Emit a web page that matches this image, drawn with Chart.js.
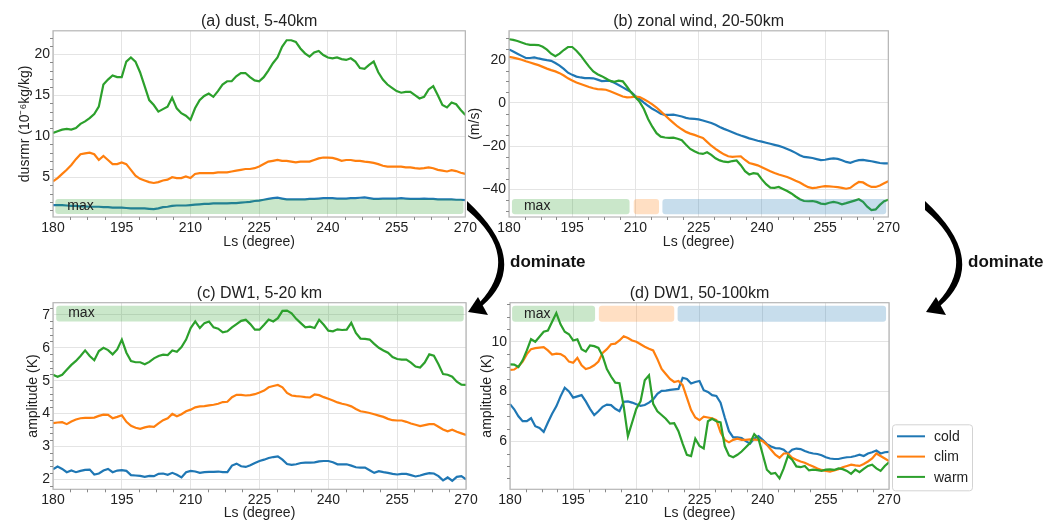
<!DOCTYPE html>
<html>
<head>
<meta charset="utf-8">
<script src="https://cdn.jsdelivr.net/npm/chart.js@4.4.1/dist/chart.umd.min.js"></script>
<style>
  body { margin: 0; background: #fff; }
  #page { position: relative; width: 1058px; height: 522px; overflow: hidden; font-family: "Liberation Sans", Arial, sans-serif; }
  canvas { position: absolute; }
  .dom { position: absolute; font-weight: bold; font-size: 17px; color: #111; line-height: 20px; }
  svg { position: absolute; left: 0; top: 0; pointer-events: none; }
</style>
</head>
<body>
<div id="page">
  <canvas id="dust" width="480" height="252" style="left:0;top:0"></canvas>
  <canvas id="wind" width="441" height="252" style="left:462px;top:0"></canvas>
  <canvas id="dwLow" width="480" height="252" style="left:0;top:270px"></canvas>
  <canvas id="dwHigh" width="520" height="252" style="left:462px;top:270px"></canvas>
  <div class="dom" style="left:510px;top:252px">dominate</div>
  <div class="dom" style="left:968px;top:252px">dominate</div>
  <svg width="1058" height="522">
    <g id="arrow1" fill="#000">
      <path d="M467 201 Q533 262 482 306 L480 302 Q522 256 467 210 Z"/>
      <path d="M468 312 L478 297 L488 315 Z"/>
    </g>
    <use href="#arrow1" x="458" y="0"/>
  </svg>
</div>
<script>
const FONT = "'Liberation Sans', Arial, sans-serif";

// solar longitude (degree), one sample per degree
const ls = [180,181,182,183,184,185,186,187,188,189,190,191,192,193,194,195,196,197,198,199,
  200,201,202,203,204,205,206,207,208,209,210,211,212,213,214,215,216,217,218,219,
  220,221,222,223,224,225,226,227,228,229,230,231,232,233,234,235,236,237,238,239,
  240,241,242,243,244,245,246,247,248,249,250,251,252,253,254,255,256,257,258,259,
  260,261,262,263,264,265,266,267,268,269,270];
const lsTicks = [180, 195, 210, 225, 240, 255, 270];

const runs = ['cold', 'clim', 'warm'];
const runColors = { cold: '#1f77b4', clim: '#ff7f0e', warm: '#2ca02c' };

// (a) dust mass mixing ratio, 5-40 km
const dustCold = [1.6,1.6,1.6,1.55,1.5,1.5,1.45,1.45,1.4,1.4,
  1.4,1.35,1.35,1.3,1.3,1.3,1.25,1.2,1.2,1.2,
  1.2,1.15,1.1,1.2,1.35,1.4,1.5,1.55,1.55,1.55,
  1.6,1.65,1.7,1.75,1.75,1.8,1.8,1.8,1.8,1.85,
  1.85,1.9,1.95,2.0,2.1,2.15,2.25,2.35,2.45,2.5,
  2.4,2.3,2.3,2.3,2.3,2.3,2.35,2.35,2.4,2.45,
  2.45,2.45,2.4,2.4,2.4,2.45,2.45,2.5,2.55,2.45,
  2.35,2.35,2.4,2.4,2.4,2.4,2.45,2.4,2.35,2.35,
  2.35,2.4,2.35,2.35,2.3,2.3,2.3,2.3,2.25,2.25,2.2];
const dustClim = [4.5,4.9,5.4,5.9,6.5,7.2,7.8,7.9,8.0,7.8,
  7.1,7.6,7.1,6.6,6.6,6.8,6.6,5.9,5.2,4.8,
  4.6,4.4,4.3,4.4,4.6,4.7,5.0,4.9,4.9,5.1,
  4.9,5.4,5.5,5.5,5.5,5.5,5.6,5.6,5.6,5.7,
  5.8,5.9,6.0,6.0,6.1,6.3,6.6,6.9,7.0,7.1,
  7.0,7.0,6.9,6.8,6.9,6.9,6.9,7.1,7.3,7.4,
  7.4,7.35,7.2,7.0,7.1,7.1,7.0,7.0,6.9,6.85,
  6.75,6.6,6.4,6.3,6.3,6.3,6.3,6.2,6.2,6.1,
  6.05,6.1,6.2,6.1,5.9,5.8,5.7,5.85,5.75,5.55,5.4];
const dustWarm = [10.4,10.6,10.8,10.9,10.8,11.0,11.5,11.8,12.2,12.7,
  13.6,16.3,16.9,17.4,17.2,17.2,19.1,19.6,19.1,17.8,
  16.1,14.4,13.8,13.0,13.3,13.6,14.7,13.4,12.8,12.5,
  12.0,13.4,14.4,14.9,15.2,14.8,15.5,16.3,16.7,16.7,
  17.3,17.7,17.7,17.2,16.8,16.7,17.2,18.0,18.9,19.6,
  20.9,21.7,21.7,21.5,20.7,20.1,19.7,20.2,20.4,19.9,
  19.6,19.5,19.6,19.4,19.3,19.5,19.1,18.3,18.2,18.7,
  19.1,17.8,16.9,16.3,15.9,15.5,15.3,15.4,15.4,15.0,
  14.6,14.8,15.7,16.1,15.0,13.8,13.5,14.1,13.9,13.2,12.6];

// (b) zonal wind, 20-50 km
const windCold = [24.8,23.8,22.8,21.8,20.8,20.8,21.1,20.6,20.2,19.8,
  19.5,18.5,17.3,15.8,14.0,13.0,12.2,11.8,11.5,11.5,
  11.4,10.8,10.1,10.2,10.2,9.3,8.3,7.2,6.1,5.0,
  3.2,1.8,0.2,-1.3,-2.7,-3.8,-5.0,-5.5,-5.5,-5.4,
  -5.8,-6.3,-6.9,-7.3,-7.4,-7.6,-8.1,-8.7,-9.3,-10.1,
  -11.1,-12.0,-12.8,-13.6,-14.4,-15.1,-15.7,-16.4,-16.9,-17.5,
  -17.9,-18.4,-18.9,-19.4,-19.9,-20.5,-21.3,-22.1,-23.1,-24.2,
  -25.0,-25.2,-25.5,-26.0,-26.5,-26.3,-25.9,-25.7,-25.9,-26.5,
  -27.3,-27.7,-27.0,-26.5,-26.4,-26.7,-27.0,-27.4,-27.8,-28.0,-28.0];
const windClim = [21.3,21.0,20.5,20.0,19.3,18.7,18.1,17.5,16.7,15.9,
  15.2,14.6,13.8,12.7,11.4,10.4,9.5,8.8,8.1,7.4,
  6.8,6.4,6.3,6.1,5.4,4.6,3.8,3.0,2.6,2.7,
  2.9,2.7,1.7,0.6,-0.7,-2.1,-3.9,-5.7,-7.5,-9.2,
  -10.9,-12.2,-13.4,-14.2,-14.8,-15.5,-16.2,-18.0,-19.8,-21.3,
  -22.6,-23.8,-24.7,-25.0,-24.8,-24.7,-26.4,-27.8,-28.3,-28.9,
  -29.8,-30.7,-31.6,-32.4,-33.1,-33.7,-34.3,-35.1,-36.0,-36.8,
  -38.0,-39.0,-39.4,-39.2,-38.8,-38.5,-38.6,-38.8,-39.0,-39.3,
  -39.7,-39.3,-37.8,-36.6,-36.8,-38.0,-38.9,-38.9,-38.2,-37.2,-36.3];
const windWarm = [29.5,29.2,28.7,28.0,27.3,26.9,26.9,26.8,26.0,24.7,
  22.8,21.6,22.8,24.5,25.9,25.9,24.2,22.0,19.4,16.8,
  14.6,13.3,12.4,11.3,10.2,9.8,10.3,10.0,7.5,4.8,
  2.6,0.5,-2.8,-7.4,-11.0,-14.0,-15.6,-16.0,-16.2,-16.1,
  -16.6,-17.3,-19.4,-21.3,-22.4,-23.3,-23.6,-22.8,-24.0,-25.6,
  -26.6,-27.2,-27.4,-26.9,-26.6,-28.8,-31.6,-33.1,-32.5,-32.8,
  -35.4,-37.6,-39.2,-39.3,-38.9,-39.8,-40.8,-41.9,-43.3,-44.6,
  -45.4,-45.5,-45.4,-45.8,-46.6,-46.8,-46.2,-45.8,-46.2,-46.9,
  -46.4,-45.8,-45.2,-44.6,-45.8,-48.0,-49.6,-49.3,-47.2,-45.5,-44.8];

// (c) DW1 amplitude, 5-20 km
const dwLowCold = [2.31,2.39,2.32,2.22,2.27,2.22,2.26,2.29,2.3,2.15,
  2.18,2.27,2.32,2.22,2.27,2.28,2.26,2.13,2.12,2.11,
  2.08,2.11,2.1,2.17,2.18,2.14,2.2,2.14,2.06,2.22,
  2.26,2.24,2.2,2.22,2.23,2.23,2.24,2.22,2.22,2.42,
  2.48,2.4,2.38,2.43,2.5,2.56,2.6,2.65,2.68,2.7,
  2.6,2.47,2.44,2.46,2.5,2.51,2.51,2.52,2.55,2.56,
  2.56,2.52,2.46,2.46,2.46,2.42,2.37,2.36,2.36,2.28,
  2.2,2.25,2.22,2.2,2.17,2.15,2.17,2.17,2.13,2.09,
  2.12,2.16,2.19,2.18,2.1,1.97,2.06,1.96,2.08,2.1,2.0];
const dwLowClim = [3.71,3.73,3.74,3.68,3.76,3.82,3.86,3.87,3.87,3.88,
  3.93,3.97,3.96,3.86,3.9,3.95,3.75,3.63,3.57,3.54,
  3.58,3.61,3.6,3.7,3.8,3.86,3.99,3.92,3.98,4.07,
  4.12,4.19,4.22,4.23,4.25,4.27,4.3,4.35,4.36,4.5,
  4.57,4.57,4.55,4.56,4.59,4.64,4.7,4.8,4.84,4.87,
  4.8,4.63,4.55,4.53,4.52,4.5,4.49,4.58,4.56,4.5,
  4.45,4.4,4.34,4.3,4.27,4.22,4.14,4.07,4.05,4.02,
  3.98,3.94,3.9,3.84,3.8,3.79,3.79,3.75,3.7,3.66,
  3.62,3.65,3.68,3.68,3.6,3.52,3.46,3.51,3.45,3.4,3.35];
const dwLowWarm = [5.18,5.12,5.18,5.33,5.48,5.6,5.75,5.92,5.75,5.62,
  5.9,6.0,5.93,5.8,5.95,6.25,5.85,5.6,5.56,5.56,
  5.5,5.57,5.68,5.75,5.79,5.78,5.92,5.88,6.02,6.25,
  6.6,6.8,6.6,6.75,6.8,6.62,6.58,6.47,6.5,6.62,
  6.72,6.82,6.85,6.72,6.55,6.55,6.7,6.86,6.8,6.9,
  7.12,7.13,7.05,6.88,6.75,6.62,6.64,6.6,6.85,6.7,
  6.52,6.5,6.56,6.54,6.55,6.76,6.45,6.28,6.27,6.25,
  6.12,6.0,5.92,5.85,5.72,5.66,5.64,5.64,5.55,5.43,
  5.4,5.55,5.8,5.76,5.5,5.2,5.18,5.12,4.97,4.88,4.87];

// (d) DW1 amplitude, 50-100 km
const dwHighCold = [7.49,7.28,7.0,6.8,6.8,6.92,6.6,6.53,6.37,6.75,
  7.1,7.4,7.8,8.15,8.0,7.75,7.8,7.85,7.6,7.3,
  7.05,7.2,7.38,7.47,7.45,7.3,7.2,7.58,7.6,7.55,
  7.48,7.42,7.45,7.55,7.68,7.9,8.02,8.03,8.06,8.08,
  8.1,8.55,8.5,8.32,8.38,8.42,8.05,7.98,7.85,7.82,
  7.55,6.95,6.4,6.15,6.15,6.12,6.0,5.9,6.1,6.2,
  6.05,5.88,5.78,5.72,5.71,5.65,5.5,5.65,5.7,5.68,
  5.6,5.54,5.5,5.48,5.43,5.35,5.3,5.28,5.28,5.32,
  5.35,5.36,5.4,5.45,5.4,5.5,5.55,5.62,5.5,5.55,5.57];
const dwHighClim = [8.87,8.88,9.0,9.2,9.5,9.7,9.74,9.76,9.78,9.65,
  9.48,9.52,9.5,9.4,9.2,9.15,9.35,9.05,8.9,8.95,
  9.05,9.2,9.55,9.7,9.9,9.92,10.05,10.22,10.15,10.05,
  10.0,9.9,9.8,9.72,9.65,9.3,8.9,8.7,8.5,8.38,
  8.42,8.25,7.75,7.25,6.95,6.84,6.98,6.95,6.92,6.85,
  6.35,6.05,5.95,6.05,6.1,6.05,6.05,6.07,6.06,6.05,
  6.0,5.85,5.65,5.45,5.33,5.5,5.5,5.33,5.25,5.18,
  5.13,5.05,4.98,4.9,4.84,4.8,4.77,4.82,4.87,4.95,
  5.0,5.05,5.02,5.0,5.08,5.18,5.3,5.5,5.4,5.3,5.2];
const dwHighWarm = [9.09,9.08,8.98,9.25,9.65,10.1,10.0,10.2,10.4,10.45,
  10.8,11.15,10.7,10.4,10.3,10.05,10.1,9.7,9.6,9.85,
  9.82,9.75,9.42,8.9,8.6,8.35,8.33,7.4,6.2,6.75,
  7.3,7.6,8.45,8.65,7.5,7.2,7.05,6.9,6.7,6.72,
  6.4,5.9,5.45,5.4,6.1,5.8,5.7,6.8,6.9,6.8,
  6.75,5.8,5.42,5.35,5.45,5.58,5.75,5.92,6.28,6.1,
  5.47,4.85,4.68,4.72,4.5,4.9,5.4,5.25,4.98,4.95,
  5.0,4.82,4.85,4.83,4.8,4.85,4.86,4.84,4.9,4.87,
  4.8,4.68,4.85,4.75,4.88,5.0,5.05,4.9,4.8,5.0,5.15];

// "dominant run" bars: [start Ls, end Ls, run]
const dustMax = [[180.5, 269.6, 'warm']];
const windMax = [[180.7, 208.6, 'warm'], [209.6, 215.6, 'clim'], [216.4, 269.5, 'cold']];
const dwLowMax = [[180.7, 269.5, 'warm']];
const dwHighMax = [[180.5, 200.2, 'warm'], [201.1, 219.0, 'clim'], [219.8, 269.3, 'cold']];

function hexA(hex, a) {
    const n = parseInt(hex.slice(1), 16);
    return `rgba(${n >> 16},${(n >> 8) & 255},${n & 255},${a})`;
}

function rrect(ctx, x, y, w, h, r) {
    ctx.beginPath();
    ctx.moveTo(x + r, y);
    ctx.arcTo(x + w, y, x + w, y + h, r);
    ctx.arcTo(x + w, y + h, x, y + h, r);
    ctx.arcTo(x, y + h, x, y, r);
    ctx.arcTo(x, y, x + w, y, r);
    ctx.closePath();
}

// frame, minor ticks and the shaded "max" bars
const panelDeco = {
    id: 'panelDeco',
    afterDatasetsDraw(chart, args, opts) {
        const ctx = chart.ctx, a = chart.chartArea;
        const xs = chart.scales.x, ys = chart.scales.y;
        ctx.save();
        opts.bars.forEach((b, i) => {
            const x0 = xs.getPixelForValue(b[0]), x1 = xs.getPixelForValue(b[1]);
            const y0 = ys.getPixelForValue(opts.barY[1]), y1 = ys.getPixelForValue(opts.barY[0]);
            ctx.fillStyle = hexA(runColors[b[2]], 0.25);
            rrect(ctx, x0, y0, x1 - x0, y1 - y0, 3);
            ctx.fill();
            if (i === 0) {
                ctx.fillStyle = '#222';
                ctx.font = '14px ' + FONT;
                ctx.textBaseline = 'middle';
                ctx.fillText('max', x0 + 12, (y0 + y1) / 2);
            }
        });
        // frame
        ctx.strokeStyle = '#b5b5b5';
        ctx.lineWidth = 1.2;
        ctx.strokeRect(a.left, a.top, a.right - a.left, a.bottom - a.top);
        // minor ticks
        ctx.strokeStyle = '#888';
        ctx.lineWidth = 1;
        ctx.beginPath();
        for (let v = 180; v <= 270; v += 3.75) {
            if (v % 15 === 0) continue;
            const px = Math.round(xs.getPixelForValue(v)) + 0.5;
            ctx.moveTo(px, a.bottom);
            ctx.lineTo(px, a.bottom + 3);
        }
        const step = opts.yMinor;
        for (let v = Math.ceil(ys.min / step) * step; v <= ys.max; v += step) {
            const r = v / (step * opts.yMajorEvery);
            if (Math.abs(r - Math.round(r)) < 1e-6) continue;
            const py = Math.round(ys.getPixelForValue(v)) + 0.5;
            ctx.moveTo(a.left, py);
            ctx.lineTo(a.left - 3, py);
        }
        ctx.stroke();
        ctx.restore();
    }
};

// boxed legend to the lower right of panel (d)
const sideLegend = {
    id: 'sideLegend',
    afterDraw(chart) {
        const ctx = chart.ctx, a = chart.chartArea;
        const w = 80, h = 66, x = a.right + 3, y = a.bottom + 1 - h;
        ctx.save();
        ctx.fillStyle = '#fff';
        ctx.strokeStyle = '#d3d3d3';
        ctx.lineWidth = 1;
        rrect(ctx, x + 0.5, y + 0.5, w, h, 3);
        ctx.fill();
        ctx.stroke();
        ctx.font = '14px ' + FONT;
        ctx.textBaseline = 'middle';
        chart.data.datasets.forEach((ds, i) => {
            const cy = y + 12 + i * 20.3;
            ctx.strokeStyle = ds.borderColor;
            ctx.lineWidth = 2;
            ctx.beginPath();
            ctx.moveTo(x + 5, cy);
            ctx.lineTo(x + 33, cy);
            ctx.stroke();
            ctx.fillStyle = '#222';
            ctx.fillText(ds.label, x + 42, cy + 1);
        });
        ctx.restore();
    }
};

function makePanel(id, p) {
    const datasets = runs.map((run, i) => ({
        label: run,
        data: ls.map((x, k) => ({ x: x, y: p.series[i][k] })),
        borderColor: runColors[run],
        borderWidth: 2.2,
        pointRadius: 0,
        fill: false,
        order: 2 - i
    }));
    return new Chart(document.getElementById(id), {
        type: 'line',
        data: { datasets: datasets },
        plugins: p.legend ? [panelDeco, sideLegend] : [panelDeco],
        options: {
            responsive: false,
            animation: false,
            layout: { padding: { right: p.padRight } },
            plugins: {
                legend: { display: false },
                tooltip: { enabled: false },
                title: {
                    display: true,
                    text: p.title,
                    color: '#222',
                    fullSize: false,
                    font: { size: 16, family: FONT, weight: 'normal' },
                    padding: { top: p.titleTop, bottom: 0 }
                },
                panelDeco: { bars: p.bars, barY: p.barY, yMinor: p.yMinor, yMajorEvery: p.yMajorEvery }
            },
            scales: {
                x: {
                    type: 'linear',
                    min: 180,
                    max: 270,
                    afterBuildTicks: s => { s.ticks = lsTicks.map(v => ({ value: v })); },
                    afterFit: s => { s.height = p.xHeight; },
                    ticks: { color: '#222', font: { size: 14, family: FONT }, padding: p.xPad, maxRotation: 0 },
                    grid: { color: '#e4e4e4', drawTicks: false },
                    border: { display: false },
                    title: {
                        display: true, text: 'Ls (degree)', color: '#222',
                        font: { size: 14, family: FONT }, padding: { top: 0, bottom: p.xTitlePad }
                    }
                },
                y: {
                    min: p.yMin,
                    max: p.yMax,
                    afterBuildTicks: s => { s.ticks = p.yTicks.map(v => ({ value: v })); },
                    afterFit: s => { s.width = p.yWidth; },
                    ticks: {
                        color: '#222', font: { size: 14, family: FONT }, padding: 3,
                        callback: v => String(v).replace('-', '\u2212')
                    },
                    grid: { color: '#e4e4e4', drawTicks: false },
                    border: { display: false },
                    title: {
                        display: true, text: p.yTitle, color: '#222',
                        font: { size: 14, family: FONT }, padding: { top: p.yTitlePad, bottom: 0 }
                    }
                }
            }
        }
    });
}

makePanel('dust', {
    title: '(a) dust, 5-40km', yTitle: 'dusrmr (10\u207B\u2076kg/kg)',
    series: [dustCold, dustClim, dustWarm],
    yMin: 0.15, yMax: 22.85, yTicks: [5, 10, 15, 20], yMinor: 1, yMajorEvery: 5,
    bars: dustMax, barY: [0.52, 2.35],
    yWidth: 53, yTitlePad: 17, xHeight: 35, xPad: 3, xTitlePad: 1.6, titleTop: 11.6, padRight: 14
});

makePanel('wind', {
    title: '(b) zonal wind, 20-50km', yTitle: '(m/s)',
    series: [windCold, windClim, windWarm],
    yMin: -52.8, yMax: 33.4, yTicks: [-40, -20, 0, 20], yMinor: 5, yMajorEvery: 4,
    bars: windMax, barY: [-51.5, -44.5],
    yWidth: 47, yTitlePad: 4.6, xHeight: 35, xPad: 3, xTitlePad: 1.6, titleTop: 11.6, padRight: 14
});

makePanel('dwLow', {
    title: '(c) DW1, 5-20 km', yTitle: 'amplitude (K)',
    series: [dwLowCold, dwLowClim, dwLowWarm],
    yMin: 1.7, yMax: 7.37, yTicks: [2, 3, 4, 5, 6, 7], yMinor: 0.2, yMajorEvery: 5,
    bars: dwLowMax, barY: [6.8, 7.28],
    yWidth: 53, yTitlePad: 24.6, xHeight: 32.7, xPad: 2, xTitlePad: 0.6, titleTop: 13.5, padRight: 14
});

makePanel('dwHigh', {
    title: '(d) DW1, 50-100km', yTitle: 'amplitude (K)',
    series: [dwHighCold, dwHighClim, dwHighWarm],
    yMin: 4.06, yMax: 11.57, yTicks: [6, 8, 10], yMinor: 0.5, yMajorEvery: 4,
    bars: dwHighMax, barY: [10.8, 11.45],
    yWidth: 48, yTitlePad: 16.6, xHeight: 32.7, xPad: 2, xTitlePad: 0.6, titleTop: 13.5, padRight: 93,
    legend: true
});
</script>
</body>
</html>
